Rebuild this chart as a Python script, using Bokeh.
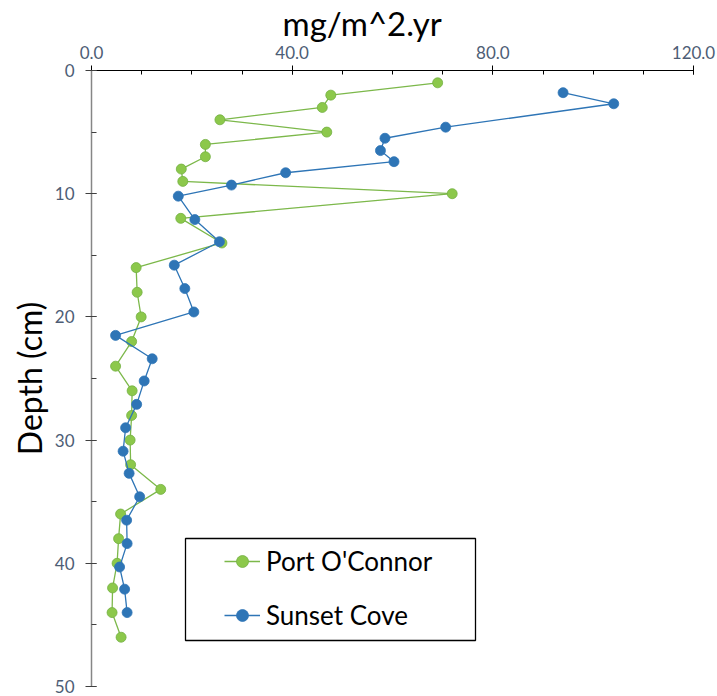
from bokeh.plotting import figure
from bokeh.models import (Range1d, FixedTicker, Legend, LegendItem, Title,
                          BoxAnnotation, PrintfTickFormatter)
from bokeh.embed import file_html
from bokeh.resources import INLINE

# ---- data ----
port_depth = [1, 2, 3, 4, 5, 6, 7, 8, 9, 10, 12, 14, 16, 18, 20, 22, 24, 26,
              28, 30, 32, 34, 36, 38, 40, 42, 44, 46]
port_flux = [69.0, 47.7, 46.0, 25.6, 46.9, 22.7, 22.7, 17.9, 18.2, 71.9, 17.8,
             26.0, 8.9, 9.1, 9.9, 8.0, 4.8, 8.1, 8.0, 7.7, 7.8, 13.8, 5.8, 5.4,
             5.1, 4.2, 4.1, 5.9]

sunset_depth = [1.8, 2.7, 4.6, 5.5, 6.5, 7.4, 8.3, 9.3, 10.2, 12.1, 13.9, 15.8,
                17.7, 19.6, 21.5, 23.4, 25.2, 27.1, 29.0, 30.9, 32.7, 34.6,
                36.5, 38.4, 40.3, 42.1, 44.0]
sunset_flux = [94.0, 104.1, 70.6, 58.5, 57.6, 60.3, 38.7, 27.9, 17.3, 20.6,
               25.5, 16.5, 18.6, 20.4, 4.8, 12.1, 10.5, 9.0, 6.8, 6.3, 7.5, 9.6,
               7.0, 7.1, 5.6, 6.6, 7.1]

x_major_ticks = [0, 40, 80, 120]
x_minor_ticks = [0, 10, 20, 30, 40, 50, 60, 70, 80, 90, 100, 110, 120]
y_major_ticks = [0, 10, 20, 30, 40, 50]
y_minor_ticks = [0, 5, 10, 15, 20, 25, 30, 35, 40, 45, 50]

series_names = ["Port O'Connor", "Sunset Cove"]
x_title = "mg/m^2.yr"
y_title = "Depth (cm)"

FONT = "Lato"
TICK_COLOR = "#4d5d75"
GREEN_LINE = "#7cb84a"
GREEN_FILL = "#8cc84b"
GREEN_EDGE = "#74b043"
BLUE = "#2e75b6"

p = figure(width=717, height=696, output_backend="svg", toolbar_location=None,
           x_range=Range1d(0, 120), y_range=Range1d(50, 0),
           x_axis_location="above",
           min_border_left=91, min_border_right=24, min_border_top=70,
           min_border_bottom=10)
p.outline_line_color = None
p.xgrid.visible = False
p.ygrid.visible = False
p.background_fill_color = "white"
p.border_fill_color = "white"

# x axis (top)
xa = p.xaxis[0]
xa.ticker = FixedTicker(ticks=x_major_ticks, minor_ticks=x_minor_ticks)
xa.formatter = PrintfTickFormatter(format="%.1f")
xa.axis_line_color = "black"
xa.axis_line_width = 1.2
xa.major_tick_in = 4
xa.major_tick_out = 5
xa.minor_tick_in = 4
xa.minor_tick_out = 0
xa.major_tick_line_color = "black"
xa.minor_tick_line_color = "black"
xa.major_label_text_font = FONT
xa.major_label_text_font_size = "17px"
xa.major_label_text_color = TICK_COLOR
xa.major_label_standoff = 7

# y axis (left)
ya = p.yaxis[0]
ya.ticker = FixedTicker(ticks=y_major_ticks, minor_ticks=y_minor_ticks)
ya.axis_line_color = "#868686"
ya.axis_line_width = 1.5
ya.major_tick_in = 5
ya.major_tick_out = 6
ya.minor_tick_in = 5
ya.minor_tick_out = 0
ya.major_tick_line_color = "#404040"
ya.minor_tick_line_color = "#404040"
ya.major_label_text_font = FONT
ya.major_label_text_font_size = "17px"
ya.major_label_text_color = TICK_COLOR
ya.major_label_standoff = 11
ya.axis_label = y_title
ya.axis_label_text_font = FONT
ya.axis_label_text_font_size = "32px"
ya.axis_label_text_font_style = "normal"
ya.axis_label_text_color = "black"
ya.axis_label_standoff = 3

# series
g_line = p.line(port_flux, port_depth, line_color=GREEN_LINE, line_width=1.3)
g_pts = p.scatter(port_flux, port_depth, size=10, fill_color=GREEN_FILL,
                  line_color=GREEN_EDGE, line_width=0.8)
b_line = p.line(sunset_flux, sunset_depth, line_color=BLUE, line_width=1.3)
b_pts = p.scatter(sunset_flux, sunset_depth, size=10, fill_color=BLUE,
                  line_color=BLUE, line_width=0.8)

# title over the top axis
p.add_layout(Title(text=x_title, align="left", offset=191, standoff=0,
                   text_font=FONT, text_font_size="33px",
                   text_font_style="normal", text_color="black"), "above")

# legend frame
p.add_layout(BoxAnnotation(left=94, right=384, bottom=46, top=148,
                           left_units="screen", right_units="screen",
                           top_units="screen", bottom_units="screen",
                           fill_alpha=0, line_color="black", line_width=1.3,
                           line_alpha=1))

legend = Legend(items=[LegendItem(label=series_names[0], renderers=[g_line, g_pts]),
                       LegendItem(label=series_names[1], renderers=[b_line, b_pts])],
                location=(133, 55), padding=0, spacing=22, margin=0,
                glyph_width=36, glyph_height=30, label_height=30,
                label_standoff=6,
                label_text_font=FONT, label_text_font_size="26px",
                label_text_color="black",
                border_line_alpha=0, background_fill_alpha=0)
p.add_layout(legend)

open("out.html", "w").write(file_html(p, INLINE))
